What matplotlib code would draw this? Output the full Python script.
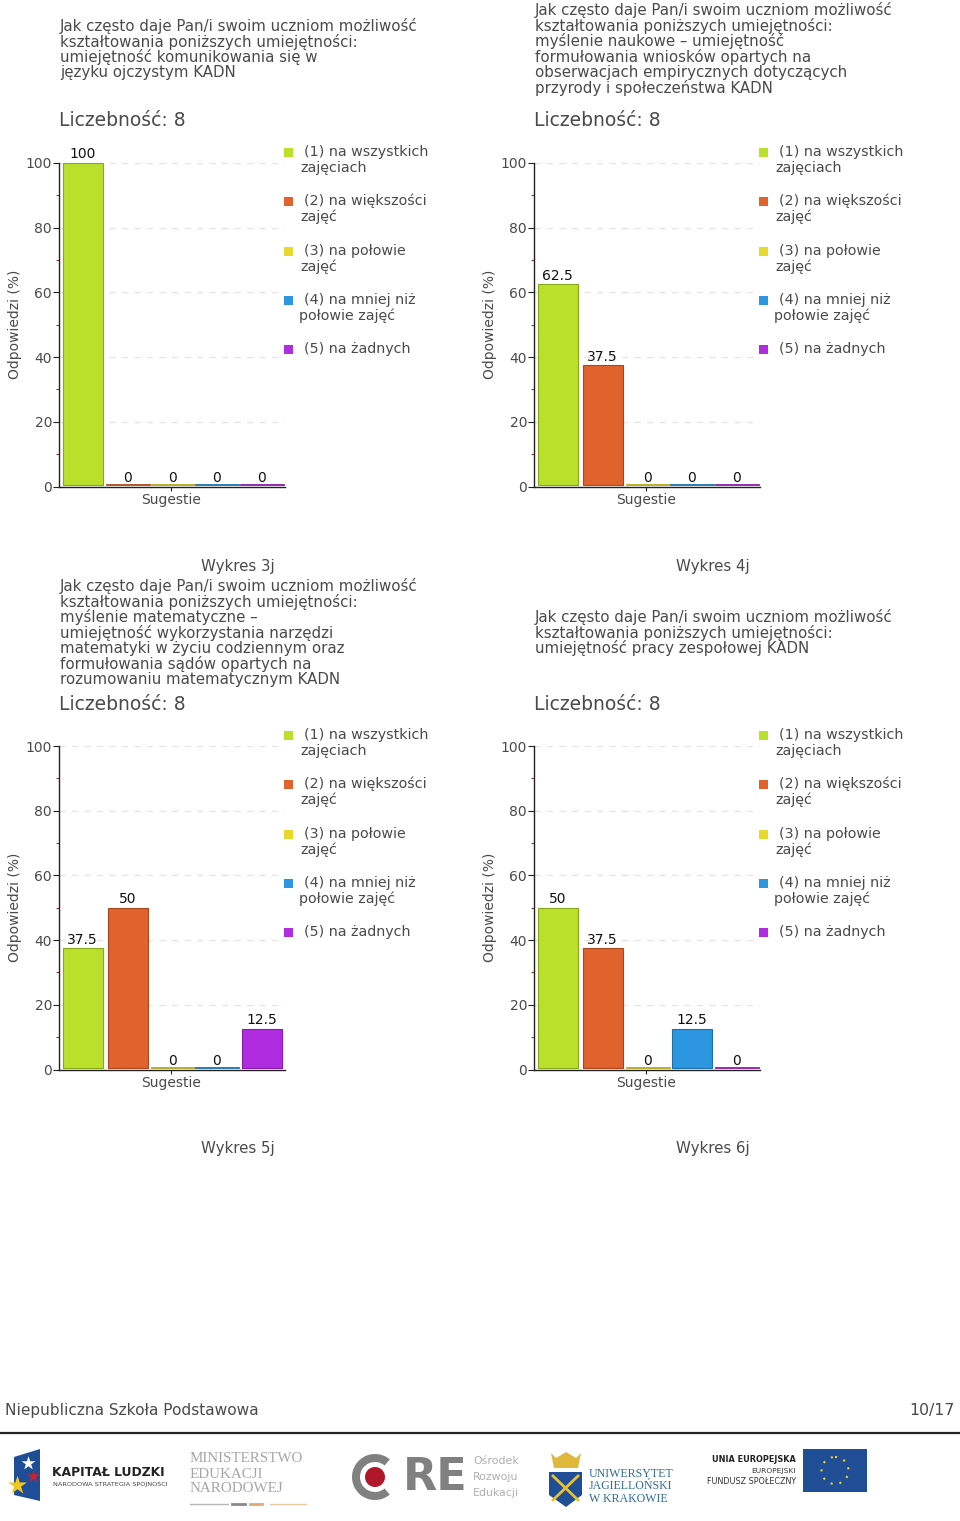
import matplotlib
matplotlib.use("Agg")
import matplotlib.pyplot as plt
from matplotlib.patches import Rectangle, Polygon, Circle, Wedge

W, H = 960, 1521
plt.rcParams['font.family'] = ['DejaVu Sans']

categories = ["(1) na wszystkich\nzajęciach", "(2) na większości\nzajęć", "(3) na połowie\nzajęć",
              "(4) na mniej niż\npołowie zajęć", "(5) na żadnych"]
colors = ['#BBE02C', '#E0622C', '#E8D82C', '#2C96E0', '#B02CE0']
edges = ['#8AA81E', '#A8481E', '#B0A41E', '#1E70A8', '#841EA8']

values_3j = [100, 0, 0, 0, 0]
values_4j = [62.5, 37.5, 0, 0, 0]
values_5j = [37.5, 50, 0, 0, 12.5]
values_6j = [50, 37.5, 0, 12.5, 0]

title_3j = ["Jak często daje Pan/i swoim uczniom możliwość", "kształtowania poniższych umiejętności:",
            "umiejętność komunikowania się w", "języku ojczystym KADN"]
title_4j = ["Jak często daje Pan/i swoim uczniom możliwość", "kształtowania poniższych umiejętności:",
            "myślenie naukowe – umiejętność", "formułowania wniosków opartych na",
            "obserwacjach empirycznych dotyczących", "przyrody i społeczeństwa KADN"]
title_5j = ["Jak często daje Pan/i swoim uczniom możliwość", "kształtowania poniższych umiejętności:",
            "myślenie matematyczne –", "umiejętność wykorzystania narzędzi",
            "matematyki w życiu codziennym oraz", "formułowania sądów opartych na",
            "rozumowaniu matematycznym KADN"]
title_6j = ["Jak często daje Pan/i swoim uczniom możliwość", "kształtowania poniższych umiejętności:",
            "umiejętność pracy zespołowej KADN"]

fig = plt.figure(figsize=(W / 100, H / 100), dpi=100, facecolor='white')
ov = fig.add_axes([0, 0, 1, 1], zorder=0)
ov.set_xlim(0, W); ov.set_ylim(H, 0); ov.axis('off')

GREY = '#4A4A4A'
BASE = 0.45  # bars float just above the axis line in the reference


def chart(dx, y0, y100, values, title, ty0, caption, cap_y):
    left, right = 59 + dx, 285 + dx
    ax = fig.add_axes([left / W, 1 - y0 / H, (right - left) / W, (y0 - y100) / H], zorder=2)
    ax.patch.set_alpha(0)
    ax.set_xlim(-0.536, 4.51)
    ax.set_ylim(0, 100)
    for s in ('top', 'right'):
        ax.spines[s].set_visible(False)
    for s in ('left', 'bottom'):
        ax.spines[s].set_linewidth(1.0)
        ax.spines[s].set_color('#222222')
    ax.set_yticks([0, 20, 40, 60, 80, 100])
    ax.set_yticks([10, 30, 50, 70, 90], minor=True)
    ax.tick_params(axis='y', which='major', length=4, width=0.8, labelsize=10, labelcolor=GREY, pad=1, color='#222222')
    ax.tick_params(axis='y', which='minor', length=2, width=0.8, color='#A03030')
    ax.set_xticks([1.97])
    ax.set_xticklabels(['Sugestie'], fontsize=10, color=GREY)
    ax.tick_params(axis='x', length=3, width=0.8, pad=2, color='#222222')
    ax.set_ylabel('Odpowiedzi (%)', fontsize=10, color=GREY, labelpad=3)
    ax.yaxis.grid(True, linestyle=(0, (5, 5)), color='#E4E4E4', linewidth=0.9)
    ax.set_axisbelow(True)
    for i, v in enumerate(values):
        if v > 0:
            ax.bar(i, v - BASE, bottom=BASE, width=0.89, color=colors[i], edgecolor=edges[i],
                   linewidth=0.8, clip_on=False, zorder=3)
        else:
            ax.bar(i, 0.3, bottom=BASE, width=0.98, color=colors[i], edgecolor=edges[i],
                   linewidth=0.6, clip_on=False, zorder=3)
        ax.annotate(f'{v:g}', (i - 0.01, v), xytext=(0, 1.2), textcoords='offset points', ha='center', va='bottom',
                    fontsize=10, color='#111111', zorder=4)
    for k, line in enumerate(title):
        ov.text(60 + dx, ty0 + k * 15.6, line, fontsize=10.85, color=GREY, va='center', ha='left')
    ov.text(59 + dx, y100 - 42, 'Liczebność: 8', fontsize=13.5, color=GREY, va='center', ha='left')
    leg_tops = [-11, 38, 88, 137, 186]
    for i, (name, ly) in enumerate(zip(categories, leg_tops)):
        yy = y100 + ly
        ov.add_patch(Rectangle((284 + dx, yy - 4), 9, 9, facecolor=colors[i], edgecolor='none'))
        parts = name.split('\n')
        ov.text(304 + dx, yy, parts[0], fontsize=10.25, color=GREY, va='center', ha='left')
        if len(parts) > 1:
            ov.text(300 + dx - (1 if i == 3 else 0), yy + 16, parts[1], fontsize=10.25, color=GREY, va='center', ha='left')
    ov.text(238 + dx, cap_y, caption, fontsize=10.8, color=GREY, va='center', ha='center')


chart(0, 486.5, 163, values_3j, title_3j, 26, 'Wykres 3j', 566)
chart(475, 486.5, 163, values_4j, title_4j, 10, 'Wykres 4j', 566)
chart(0, 1069.5, 746, values_5j, title_5j, 586, 'Wykres 5j', 1149)
chart(475, 1069.5, 746, values_6j, title_6j, 617, 'Wykres 6j', 1149)

# footer
ov.text(5, 1410, 'Niepubliczna Szkoła Podstawowa', fontsize=11.1, color=GREY, va='center', ha='left')
ov.text(955, 1410, '10/17', fontsize=11.3, color=GREY, va='center', ha='right')
ov.plot([0, 960], [1433, 1433], color='#222222', lw=1.6, solid_capstyle='butt')

# logos, drawn as shapes and live text
# Kapitał Ludzki
ov.add_patch(Polygon([(14, 1457), (40, 1449), (40, 1501), (14, 1495)], facecolor='#1F4E96', edgecolor='none'))
ov.scatter([28], [1463], marker='*', s=110, color='white', linewidths=0, zorder=3)
ov.scatter([33], [1476], marker='*', s=90, color='#C8202C', linewidths=0, zorder=3)
ov.scatter([17], [1485], marker='*', s=200, color='#F2C81E', linewidths=0, zorder=3)
ov.text(52, 1473, 'KAPITAŁ LUDZKI', fontsize=8.9, color='#222222', fontweight='bold', va='center', ha='left')
ov.text(53, 1484, 'NARODOWA STRATEGIA SPÓJNOŚCI', fontsize=4.65, color='#444444', va='center', ha='left')
# Ministerstwo
for t, y in zip(['MINISTERSTWO', 'EDUKACJI', 'NARODOWEJ'], [1459, 1474, 1489]):
    ov.text(190, y, t, fontsize=10.8, color='#A6A6A6', family='Liberation Serif', va='center', ha='left')
ov.plot([190, 228], [1503.5, 1503.5], color='#B8B8B8', lw=1)
ov.plot([270, 306], [1503.5, 1503.5], color='#E8C8A0', lw=1)
ov.plot([232, 245], [1503.5, 1503.5], color='#8A8A8A', lw=2)
ov.plot([250, 262], [1503.5, 1503.5], color='#E0A878', lw=2)
# ORE
ov.add_patch(Wedge((375, 1477), 23, 50, 310, width=8, facecolor='#808080', edgecolor='none'))
ov.add_patch(Circle((375, 1477), 10, facecolor='#B0172A'))
ov.text(403, 1477, 'RE', fontsize=32, color='#808080', fontweight='bold', va='center', ha='left')
for t, y in zip(['Ośrodek', 'Rozwoju', 'Edukacji'], [1461, 1477, 1493]):
    ov.text(473, y, t, fontsize=7.9, color='#B0B0B0', va='center', ha='left')
# UJ
ov.add_patch(Polygon([(549, 1472), (582, 1472), (582, 1495), (566, 1507), (549, 1495)], facecolor='#1F4E96', edgecolor='none'))
ov.add_patch(Polygon([(551, 1453), (556, 1458), (566, 1452), (576, 1458), (581, 1453), (578, 1468), (554, 1468)], facecolor='#E0B83C', edgecolor='none'))
ov.plot([553, 578], [1476, 1500], color='#E8C030', lw=2)
ov.plot([578, 553], [1476, 1500], color='#E8C030', lw=2)
for t, y in zip(['UNIWERSYTET', 'JAGIELLOŃSKI', 'W KRAKOWIE'], [1474, 1486, 1499]):
    ov.text(589, y, t, fontsize=8.6, color='#2E6E96', family='Liberation Serif', va='center', ha='left')
# UE
ov.text(796, 1460, 'UNIA EUROPEJSKA', fontsize=5.9, color='#222222', fontweight='bold', va='center', ha='right')
ov.text(796, 1471, 'EUROPEJSKI', fontsize=5.4, color='#333333', va='center', ha='right')
ov.text(796, 1481, 'FUNDUSZ SPOŁECZNY', fontsize=5.8, color='#333333', va='center', ha='right')
ov.add_patch(Rectangle((803, 1449), 64, 43, facecolor='#1F4E96', edgecolor='none'))
ov.add_patch(Circle((835, 1470.5), 13.5, fill=False, edgecolor='#F2D21E', lw=1.5, linestyle=(0, (1, 3.3))))

fig.savefig('out.png', dpi=100, facecolor='white')
